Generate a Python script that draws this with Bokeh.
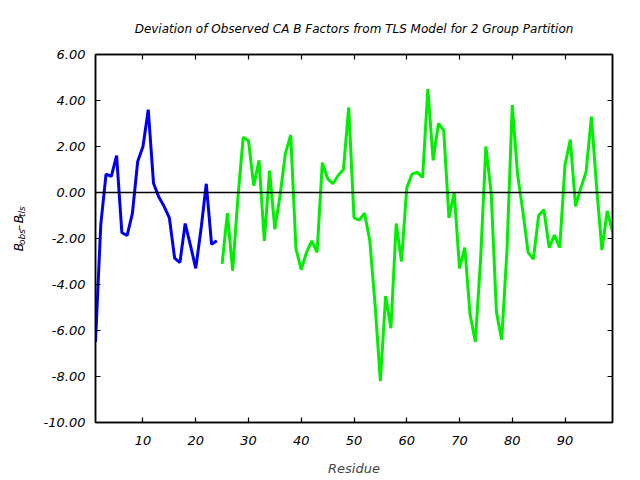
import math
from bokeh.plotting import figure
from bokeh.layouts import row
from bokeh.models import Range1d, LinearAxis, FixedTicker, PrintfTickFormatter, Span
from bokeh.core.properties import value
from bokeh.embed import file_html
from bokeh.resources import INLINE

# ---------------- data ----------------
residues_group1 = list(range(1, 25))
bdev_group1 = [-6.5, -1.4, 0.8, 0.7, 1.6, -1.75, -1.87, -0.9, 1.35, 2.0,
               3.6, 0.4, -0.2, -0.6, -1.1, -2.85, -3.05, -1.35, -2.3, -3.3,
               -1.6, 0.38, -2.25, -2.1]

residues_group2 = list(range(25, 100))
bdev_group2 = [-3.1, -0.9, -3.4, -0.2, 2.4, 2.25, 0.3, 1.4, -2.1, 0.95,
               -1.6, -0.1, 1.7, 2.5, -2.45, -3.35, -2.6, -2.1, -2.6, 1.3,
               0.6, 0.38, 0.74, 1.0, 3.7, -1.1, -1.2, -0.9, -2.1, -4.9,
               -8.2, -4.5, -5.9, -1.35, -3.0, 0.2, 0.8, 0.88, 0.65, 4.5,
               1.4, 3.0, 2.7, -1.1, 0.0, -3.3, -2.4, -5.3, -6.5, -2.9,
               2.0, 0.0, -5.2, -6.4, -2.5, 3.8, 0.8, -0.8, -2.6, -2.9,
               -1.0, -0.75, -2.4, -1.85, -2.4, 1.2, 2.3, -0.6, 0.2, 0.9,
               3.3, 0.2, -2.5, -0.8, -1.7]

x_ticks = [10, 20, 30, 40, 50, 60, 70, 80, 90]
y_ticks = [-10, -8, -6, -4, -2, 0, 2, 4, 6]

title_text = "Deviation of Observed CA B Factors from TLS Model for 2 Group Partition"
x_label = "Residue"
# y label "B_obs - B_tls" split into pieces
y_label_parts = ["B", "obs", "\u2013", "B", "tls"]
y_label_is_sub = [False, True, False, False, True]
y_label_gap_after = [0.0, 0.3, 0.3, 0.0, 0.0]

FONT = "DejaVu Sans"
LABEL_W = 40

# ---------------- main figure ----------------
p = figure(width=640 - LABEL_W, height=480, output_backend="svg", toolbar_location=None,
           x_range=Range1d(1, 99), y_range=Range1d(-10, 6),
           min_border_left=94 - LABEL_W, min_border_right=28, min_border_top=54,
           min_border_bottom=58, background_fill_color="white",
           border_fill_color="white")
p.grid.visible = False
p.outline_line_color = "black"
p.outline_line_width = 1.5

p.title.text = title_text
p.title.align = "center"
p.title.text_font = FONT
p.title.text_font_style = "italic"
p.title.text_font_size = "12px"
p.title.text_color = "black"
p.title.standoff = 37


def style_axis(ax, ticks, show_labels):
    ax.ticker = FixedTicker(ticks=ticks)
    ax.major_tick_in = 5
    ax.major_tick_out = 0
    ax.minor_tick_line_color = None
    ax.axis_line_color = "black"
    ax.axis_line_width = 1.5
    ax.major_tick_line_color = "black"
    ax.major_tick_line_width = 1.2
    ax.major_label_text_font = FONT
    ax.major_label_text_font_style = "italic"
    ax.major_label_text_font_size = "13px"
    ax.major_label_text_color = "black"
    if not show_labels:
        ax.major_label_overrides = {t: "" for t in ticks}
        ax.major_label_standoff = 0


xa = p.xaxis[0]
style_axis(xa, x_ticks, True)
xa.major_label_standoff = 13
xa.axis_label = x_label
xa.axis_label_text_font = FONT
xa.axis_label_text_font_style = "italic"
xa.axis_label_text_font_size = "13px"
xa.axis_label_standoff = 13

ya = p.yaxis[0]
style_axis(ya, y_ticks, True)
ya.formatter = PrintfTickFormatter(format="%.2f")
ya.major_label_standoff = 10

top = LinearAxis()
style_axis(top, x_ticks, False)
p.add_layout(top, "above")
right = LinearAxis()
style_axis(right, y_ticks, False)
p.add_layout(right, "right")

p.add_layout(Span(location=0, dimension="width", line_color="black", line_width=1.5))

p.line(residues_group1, bdev_group1, line_color="#0000ee", line_width=3)
p.line(residues_group2, bdev_group2, line_color="#00ee00", line_width=3)

# ---------------- y-axis label strip (rotated, with subscripts) ----------------
lab = figure(width=LABEL_W, height=480, output_backend="svg", toolbar_location=None,
             x_range=Range1d(0, LABEL_W), y_range=Range1d(0, 480),
             x_axis_type=None, y_axis_type=None, min_border=0,
             background_fill_color="white", border_fill_color="white")
lab.grid.visible = False
lab.outline_line_color = None
lab.title.visible = False

sizes = {False: 12, True: 9}
char_w = {"B": 0.686, "o": 0.612, "b": 0.635, "s": 0.521, "\u2013": 0.5,
          "t": 0.392, "l": 0.278}


def piece_len(t, s, g):
    return (sum(char_w[c] for c in t) + g) * sizes[s]


total = sum(piece_len(t, s, g) for t, s, g in zip(y_label_parts, y_label_is_sub, y_label_gap_after))
ypos = 480 - 229 - total / 2
for txt, sub, gap in zip(y_label_parts, y_label_is_sub, y_label_gap_after):
    fs = sizes[sub]
    lab.text(x=[21.5 if sub else 18.5], y=[ypos], text=[txt], angle=math.pi / 2,
             text_align="left", text_baseline="alphabetic",
             text_font=value(FONT), text_font_style="italic",
             text_font_size=f"{fs}px", text_color="black")
    ypos += piece_len(txt, sub, gap)

layout = row(lab, p, spacing=0)
open("out.html", "w").write(file_html(layout, INLINE))
